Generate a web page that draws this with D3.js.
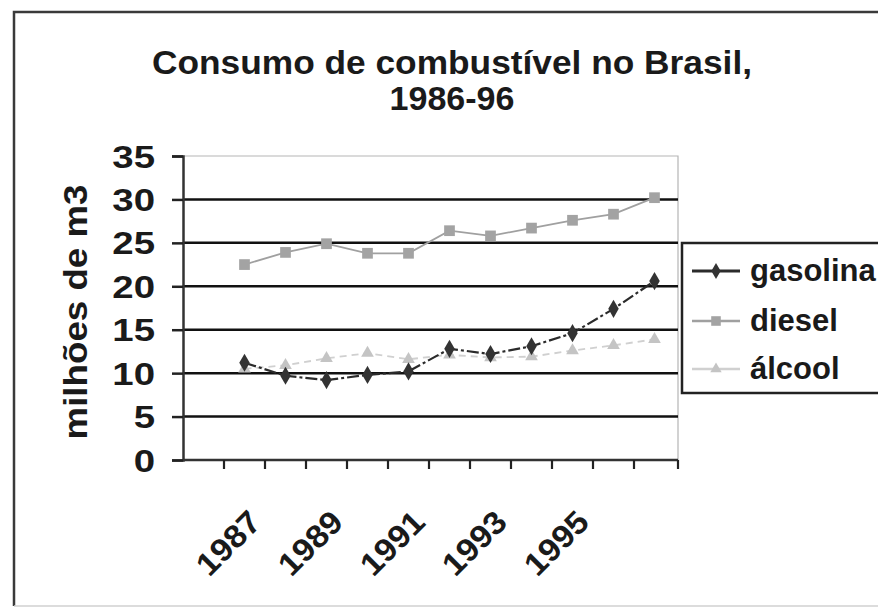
<!DOCTYPE html>
<html>
<head>
<meta charset="utf-8">
<script src="https://cdn.jsdelivr.net/npm/d3@7"></script>
<style>
  html, body { margin: 0; padding: 0; background: #fff; }
  svg { display: block; }
  text { font-family: "Liberation Sans", Arial, sans-serif; font-weight: bold; fill: #1a1a1a; }
</style>
</head>
<body>
<svg id="chart" width="878" height="610"></svg>
<script>
// ---- data ----
const categories = ["1985","1986","1987","1988","1989","1990","1991","1992","1993","1994","1995","1996"];
const gasolina = [null, 11.2, 9.7, 9.2, 9.8, 10.2, 12.8, 12.2, 13.1, 14.6, 17.4, 20.6];
const diesel   = [null, 22.5, 23.9, 24.9, 23.8, 23.8, 26.4, 25.8, 26.7, 27.6, 28.3, 30.2];
const alcool   = [null, 10.5, 10.9, 11.7, 12.3, 11.6, 12.1, 11.8, 11.9, 12.6, 13.2, 13.9];
const seriesNames = ["gasolina", "diesel", "álcool"];
const yTicks = [0, 5, 10, 15, 20, 25, 30, 35];
const xTickLabels = ["1987", "1989", "1991", "1993", "1995"];
const titleLines = ["Consumo de combustível no Brasil,", "1986-96"];
const yTitle = "milhões de m3";

// ---- layout ----
const svg = d3.select("#chart");
const plot = { left: 183, right: 678, top: 156, bottom: 460 };

svg.append("rect").attr("width", 878).attr("height", 610).attr("fill", "#fff");

// outer frame
svg.append("path").attr("d", "M14,606 L14,12 L878,12")
  .attr("fill", "none").attr("stroke", "#3a3a3a").attr("stroke-width", 2.5);
svg.append("line").attr("x1", 14).attr("x2", 878).attr("y1", 606).attr("y2", 606)
  .attr("stroke", "#d0d0d0").attr("stroke-width", 1.5);

const x = d3.scaleBand().domain(categories).range([plot.left, 675]).padding(0);
const y = d3.scaleLinear().domain([0, 35]).range([plot.bottom, plot.top]);
const cx = c => x(c) + x.bandwidth() / 2;

// title
svg.append("text").attr("x", 452).attr("y", 74).attr("text-anchor", "middle")
  .attr("font-size", 33).attr("textLength", 600).attr("lengthAdjust", "spacingAndGlyphs")
  .text(titleLines[0]);
svg.append("text").attr("x", 452).attr("y", 110).attr("text-anchor", "middle")
  .attr("font-size", 33).attr("textLength", 125).attr("lengthAdjust", "spacingAndGlyphs")
  .text(titleLines[1]);

// plot border (top & right, light)
svg.append("path")
  .attr("d", `M${plot.left},${plot.top} L${plot.right},${plot.top} L${plot.right},${plot.bottom}`)
  .attr("fill", "none").attr("stroke", "#b5b5b5").attr("stroke-width", 1.2);

// gridlines
svg.append("g").selectAll("line").data(yTicks.filter(d => d > 0 && d < 35)).join("line")
  .attr("x1", plot.left).attr("x2", plot.right)
  .attr("y1", d => y(d)).attr("y2", d => y(d))
  .attr("stroke", "#111").attr("stroke-width", 2.5);

// y axis
const yAxis = d3.axisLeft(y).tickValues(yTicks).tickSize(11).tickFormat("");
const gy = svg.append("g").attr("transform", `translate(${plot.left},0)`).call(yAxis);
gy.select(".domain").attr("stroke", "#333").attr("stroke-width", 2.5);
gy.selectAll(".tick line").attr("stroke", "#222").attr("stroke-width", 2.5);

svg.append("g").selectAll("text").data(yTicks).join("text")
  .attr("transform", d => `translate(155,${y(d) + 11.5}) scale(1.2,1)`)
  .attr("text-anchor", "end").attr("font-size", 32)
  .text(d => d);

// y title
svg.append("text")
  .attr("transform", "translate(87,312) rotate(-90)")
  .attr("text-anchor", "middle").attr("font-size", 34)
  .attr("textLength", 255).attr("lengthAdjust", "spacingAndGlyphs")
  .text(yTitle);

// x axis
svg.append("line").attr("x1", plot.left).attr("x2", plot.right)
  .attr("y1", plot.bottom).attr("y2", plot.bottom)
  .attr("stroke", "#333").attr("stroke-width", 2.5);
svg.append("g").selectAll("line").data(categories.slice(1)).join("line")
  .attr("x1", d => x(d)).attr("x2", d => x(d))
  .attr("y1", plot.bottom).attr("y2", plot.bottom + 9)
  .attr("stroke", "#222").attr("stroke-width", 2.2);
svg.append("line").attr("x1", plot.right).attr("x2", plot.right)
  .attr("y1", plot.bottom).attr("y2", plot.bottom + 9)
  .attr("stroke", "#222").attr("stroke-width", 2.2);

svg.append("g").selectAll("text").data(xTickLabels).join("text")
  .attr("transform", d => `translate(${x(d) - 2},524) rotate(-45)`)
  .attr("text-anchor", "end").attr("font-size", 32)
  .attr("textLength", 76).attr("lengthAdjust", "spacingAndGlyphs")
  .text(d => d);

// series
const styles = [
  { name: seriesNames[0], values: gasolina, stroke: "#2b2b2b", width: 2.2, dash: "12,3,3,3", marker: d3.symbolDiamond, msize: 95, mfill: "#333" },
  { name: seriesNames[1], values: diesel,   stroke: "#a0a0a0", width: 1.8, dash: null,  marker: d3.symbolSquare,  msize: 115, mfill: "#a3a3a3" },
  { name: seriesNames[2], values: alcool,   stroke: "#d0d0d0", width: 1.8, dash: "7,5", marker: d3.symbolTriangle, msize: 70, mfill: "#c4c4c4" }
];

const line = d3.line()
  .defined(d => d.v != null)
  .x(d => cx(d.c)).y(d => y(d.v));

// draw alcool first, then diesel, then gasolina on top
[2, 1, 0].forEach(i => {
  const s = styles[i];
  const pts = categories.map((c, k) => ({ c, v: s.values[k] }));
  svg.append("path").datum(pts).attr("d", line)
    .attr("fill", "none").attr("stroke", s.stroke).attr("stroke-width", s.width)
    .attr("stroke-dasharray", s.dash);
  svg.append("g").selectAll("path").data(pts.filter(d => d.v != null)).join("path")
    .attr("d", d3.symbol().type(s.marker).size(s.msize))
    .attr("transform", d => `translate(${cx(d.c)},${y(d.v)})`)
    .attr("fill", s.mfill);
});

// legend
const lg = svg.append("g");
lg.append("rect").attr("x", 682).attr("y", 243).attr("width", 220).attr("height", 150)
  .attr("fill", "#fff").attr("stroke", "#222").attr("stroke-width", 2.5);
const legY = [271, 321, 369];
const legBase = [281, 331, 379];
styles.forEach((s, i) => {
  lg.append("line").attr("x1", 692).attr("x2", 740).attr("y1", legY[i]).attr("y2", legY[i])
    .attr("stroke", s.stroke).attr("stroke-width", s.width + 0.6);
  lg.append("path").attr("d", d3.symbol().type(s.marker).size(s.msize * 0.8))
    .attr("transform", `translate(716,${legY[i]})`).attr("fill", s.mfill);
  lg.append("text").attr("x", 750).attr("y", legBase[i]).attr("font-size", 31)
    .text(s.name);
});
</script>
</body>
</html>
